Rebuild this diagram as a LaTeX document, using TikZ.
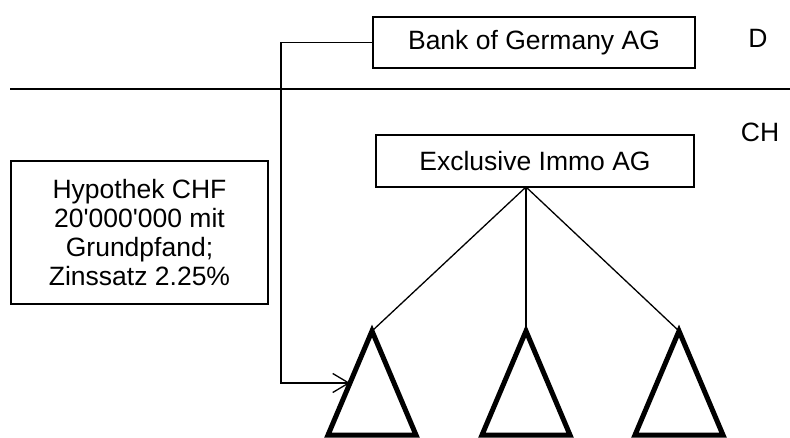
\documentclass[tikz,border=0pt]{standalone}
\usepackage{fontspec}
\setmainfont{Liberation Sans}
\usetikzlibrary{arrows.meta,shapes.geometric}
\begin{document}
\begin{tikzpicture}[x=1pt,y=-1pt,
  every node/.style={font=\fontsize{26.5}{29}\selectfont},
  box/.style={draw,line width=1.4pt,inner sep=0pt,outer sep=0pt,align=center},
  tri/.style={draw,isosceles triangle,isosceles triangle stretches,shape border rotate=90,
    minimum width=88pt,minimum height=104pt,line width=5pt,inner sep=0pt,outer sep=0pt,anchor=apex},
  thin/.style={line width=1.3pt},
  lbl/.style={anchor=base,inner sep=0pt}]
\useasboundingbox (0,0) rectangle (790,438);
% boxes
\node[box,minimum width=322pt,minimum height=51pt] (bank) at (534,42.5) {Bank of Germany AG};
\node[box,minimum width=318pt,minimum height=52pt] (excl) at (535,161) {Exclusive Immo AG};
\node[box,minimum width=257pt,minimum height=143pt] (hyp) at (139.5,232.5)
  {Hypothek CHF\\20\textquotesingle000\textquotesingle000 mit\\Grundpfand;\\Zinssatz 2.25\%};
% labels
\node[lbl] (d) at (758,48) {D};
\node[lbl] (ch) at (760,142) {CH};
% divider
\coordinate (divL) at (10,89);
\coordinate (divR) at (790,89);
\draw[thin] (divL) -- (divR);
% triangles
\node[tri] (t1) at (372,331) {};
\node[tri] (t2) at (526,331) {};
\node[tri] (t3) at (679,331) {};
% connectors
\coordinate (hub) at (excl.south -| t2.apex);
\draw[thin] (hub) -- (t1.apex);
\draw[thin] (hub) -- (t2.apex);
\draw[thin] (hub) -- (t3.apex);
\coordinate (vx) at (281,0);
\coordinate (elbow) at (vx |- t1.left side);
\draw[thin,-{Straight Barb[length=16pt,width=19pt]}] (bank.west) -| (elbow) -- (t1.left side);
\end{tikzpicture}
\end{document}
